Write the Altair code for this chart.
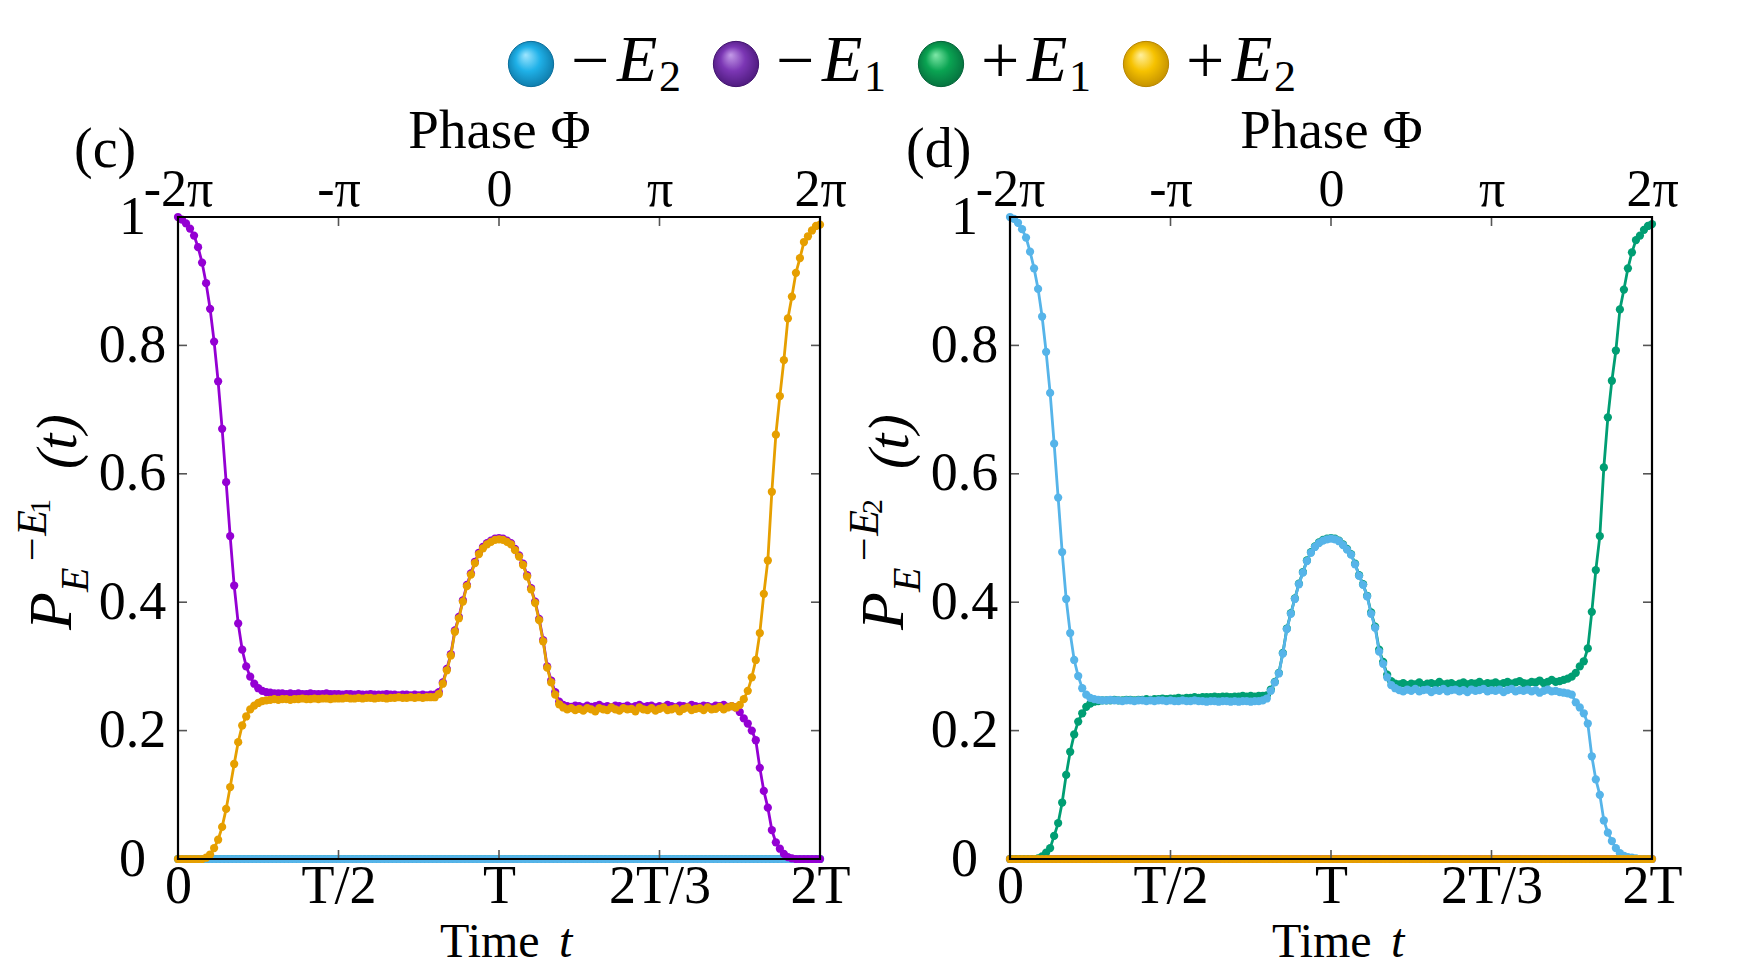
import altair as alt
import pandas as pd

# ---------------- data (time in units of T, 2T/160 sampling) ----------------
t_over_T = [i / 80 for i in range(161)]

# panel (c): initial state -E1
purple_c = [
    1.000, 0.996, 0.990, 0.982, 0.971, 0.953, 0.929, 0.897, 0.857, 0.806,
    0.744, 0.670, 0.587, 0.503, 0.426, 0.367, 0.326, 0.300, 0.284, 0.273,
    0.266, 0.262, 0.260, 0.259, 0.258, 0.258, 0.258, 0.257, 0.258, 0.257,
    0.258, 0.257, 0.257, 0.258, 0.257, 0.257, 0.257, 0.258, 0.257, 0.257,
    0.257, 0.256, 0.257, 0.257, 0.256, 0.257, 0.256, 0.256, 0.257, 0.256,
    0.256, 0.256, 0.257, 0.256, 0.256, 0.255, 0.256, 0.256, 0.255, 0.256,
    0.255, 0.256, 0.255, 0.256, 0.256, 0.260, 0.275, 0.296, 0.319, 0.356,
    0.377, 0.403, 0.427, 0.445, 0.463, 0.477, 0.486, 0.492, 0.496, 0.499,
    0.500, 0.499, 0.496, 0.492, 0.483, 0.473, 0.460, 0.442, 0.422, 0.401,
    0.374, 0.341, 0.300, 0.278, 0.260, 0.245, 0.240, 0.238, 0.237, 0.239,
    0.238, 0.236, 0.239, 0.237, 0.238, 0.240, 0.237, 0.238, 0.236, 0.239,
    0.238, 0.237, 0.239, 0.236, 0.238, 0.240, 0.237, 0.238, 0.239, 0.236,
    0.238, 0.237, 0.240, 0.238, 0.236, 0.239, 0.238, 0.237, 0.240, 0.238,
    0.237, 0.239, 0.238, 0.236, 0.239, 0.238, 0.240, 0.237, 0.238, 0.236,
    0.229, 0.219, 0.211, 0.200, 0.185, 0.142, 0.106, 0.080, 0.045, 0.026,
    0.016, 0.008, 0.003, 0.001, 0.000, 0.000, 0.000, 0.000, 0.000, 0.000,
    0.000,
]
orange_c = [
    0.000, 0.000, 0.000, 0.000, 0.000, 0.000, 0.000, 0.002, 0.007, 0.017,
    0.030, 0.050, 0.078, 0.112, 0.148, 0.182, 0.208, 0.222, 0.233, 0.239,
    0.243, 0.246, 0.247, 0.248, 0.249, 0.248, 0.249, 0.249, 0.248, 0.249,
    0.249, 0.250, 0.249, 0.249, 0.250, 0.249, 0.250, 0.250, 0.249, 0.250,
    0.250, 0.250, 0.251, 0.250, 0.250, 0.251, 0.250, 0.251, 0.251, 0.250,
    0.251, 0.251, 0.250, 0.251, 0.251, 0.252, 0.251, 0.251, 0.252, 0.251,
    0.252, 0.251, 0.252, 0.252, 0.252, 0.257, 0.273, 0.294, 0.317, 0.354,
    0.375, 0.401, 0.425, 0.443, 0.461, 0.475, 0.484, 0.490, 0.494, 0.497,
    0.498, 0.497, 0.494, 0.490, 0.481, 0.471, 0.458, 0.440, 0.420, 0.399,
    0.372, 0.339, 0.298, 0.275, 0.256, 0.241, 0.236, 0.233, 0.235, 0.232,
    0.234, 0.231, 0.235, 0.233, 0.230, 0.235, 0.233, 0.232, 0.236, 0.233,
    0.231, 0.235, 0.233, 0.234, 0.230, 0.236, 0.233, 0.232, 0.235, 0.231,
    0.234, 0.236, 0.232, 0.233, 0.235, 0.230, 0.234, 0.236, 0.232, 0.234,
    0.235, 0.232, 0.236, 0.233, 0.234, 0.237, 0.233, 0.236, 0.238, 0.236,
    0.240, 0.249, 0.262, 0.283, 0.310, 0.352, 0.413, 0.465, 0.572, 0.661,
    0.721, 0.777, 0.842, 0.876, 0.913, 0.936, 0.961, 0.970, 0.979, 0.986,
    0.988,
]
blue_c = [0.0] * 161
green_c = [0.0] * 161

# panel (d): initial state -E2
blue_d = [
    1.000, 0.997, 0.991, 0.981, 0.968, 0.946, 0.920, 0.888, 0.845, 0.790,
    0.726, 0.647, 0.563, 0.478, 0.405, 0.352, 0.310, 0.285, 0.266, 0.256,
    0.251, 0.249, 0.248, 0.247, 0.247, 0.248, 0.247, 0.247, 0.246, 0.247,
    0.247, 0.246, 0.247, 0.247, 0.246, 0.247, 0.246, 0.247, 0.247, 0.246,
    0.247, 0.246, 0.246, 0.247, 0.246, 0.246, 0.247, 0.246, 0.246, 0.245,
    0.246, 0.246, 0.245, 0.246, 0.246, 0.245, 0.246, 0.245, 0.246, 0.246,
    0.245, 0.246, 0.246, 0.247, 0.250, 0.262, 0.275, 0.289, 0.320, 0.358,
    0.382, 0.405, 0.428, 0.446, 0.464, 0.477, 0.486, 0.492, 0.496, 0.498,
    0.499, 0.498, 0.495, 0.489, 0.482, 0.474, 0.459, 0.441, 0.427, 0.409,
    0.382, 0.360, 0.323, 0.304, 0.283, 0.271, 0.266, 0.263, 0.261, 0.264,
    0.262, 0.265, 0.261, 0.263, 0.264, 0.260, 0.263, 0.262, 0.265, 0.261,
    0.263, 0.264, 0.261, 0.263, 0.260, 0.264, 0.262, 0.263, 0.265, 0.261,
    0.263, 0.262, 0.264, 0.260, 0.263, 0.265, 0.261, 0.263, 0.262, 0.264,
    0.261, 0.263, 0.259, 0.262, 0.264, 0.261, 0.262, 0.260, 0.259, 0.258,
    0.256, 0.244, 0.236, 0.227, 0.211, 0.160, 0.124, 0.100, 0.060, 0.041,
    0.028, 0.017, 0.009, 0.005, 0.003, 0.002, 0.001, 0.000, 0.000, 0.000,
    0.000,
]
green_d = [
    0.000, 0.000, 0.000, 0.000, 0.000, 0.000, 0.000, 0.001, 0.004, 0.010,
    0.017, 0.036, 0.056, 0.088, 0.131, 0.167, 0.194, 0.214, 0.227, 0.237,
    0.242, 0.245, 0.246, 0.247, 0.247, 0.247, 0.248, 0.247, 0.247, 0.248,
    0.248, 0.247, 0.248, 0.248, 0.249, 0.248, 0.249, 0.249, 0.250, 0.249,
    0.250, 0.250, 0.251, 0.250, 0.251, 0.251, 0.252, 0.251, 0.252, 0.252,
    0.252, 0.253, 0.252, 0.253, 0.253, 0.252, 0.253, 0.253, 0.254, 0.253,
    0.254, 0.253, 0.254, 0.254, 0.255, 0.264, 0.276, 0.290, 0.321, 0.359,
    0.383, 0.406, 0.429, 0.447, 0.465, 0.478, 0.487, 0.493, 0.497, 0.499,
    0.500, 0.499, 0.496, 0.490, 0.483, 0.475, 0.460, 0.442, 0.428, 0.410,
    0.384, 0.362, 0.326, 0.307, 0.287, 0.277, 0.273, 0.272, 0.274, 0.271,
    0.273, 0.272, 0.275, 0.271, 0.273, 0.274, 0.272, 0.276, 0.272, 0.273,
    0.274, 0.271, 0.273, 0.275, 0.272, 0.274, 0.273, 0.276, 0.272, 0.274,
    0.273, 0.275, 0.272, 0.274, 0.276, 0.273, 0.275, 0.277, 0.274, 0.273,
    0.276, 0.275, 0.278, 0.274, 0.276, 0.279, 0.276, 0.277, 0.279, 0.281,
    0.284, 0.290, 0.300, 0.308, 0.328, 0.385, 0.450, 0.503, 0.610, 0.688,
    0.745, 0.792, 0.856, 0.887, 0.920, 0.945, 0.964, 0.971, 0.980, 0.986,
    0.989,
]
orange_d = [0.0] * 161
purple_d = [0.0] * 161

# ---------------- ticks / labels ----------------
time_ticks = [0, 0.5, 1, 1.5, 2]
time_labels = ["0", "T/2", "T", "2T/3", "2T"]
phase_labels = ["-2π", "-π", "0", "π", "2π"]
p_ticks = [0, 0.2, 0.4, 0.6, 0.8, 1]
p_labels = ["0", "0.2", "0.4", "0.6", "0.8", "1"]
inner_time_ticks = [0.5, 1, 1.5]
inner_p_ticks = [0.2, 0.4, 0.6, 0.8]

legend_keys = ["−E₂", "−E₁", "+E₁", "+E₂"]
legend_signs = ["−", "−", "+", "+"]
legend_digits = ["2", "1", "1", "2"]

# ---------------- styles ----------------
COL = {"−E₂": "#56B4E9", "−E₁": "#9400D3", "+E₁": "#009E73", "+E₂": "#E69F00"}
BALL = {
    "−E₂": ("#9fe6ff", "#1fb1e8", "#0b6f9c"),
    "−E₁": ("#c49be8", "#7b36b4", "#431470"),
    "+E₁": ("#7fe8a8", "#0aa452", "#05653a"),
    "+E₂": ("#fff0a0", "#f6c200", "#b88600"),
}
FONT = "Liberation Serif"
W = H = 642
TICK_FS = 54

xs = alt.Scale(domain=[0, 2], nice=False, zero=False)
ys = alt.Scale(domain=[0, 1], nice=False, zero=False)
one = pd.DataFrame({"k": [0]})


def label_expr(values, labels):
    expr = "''"
    for v, l in reversed(list(zip(values, labels))):
        expr = f"abs(datum.value - {v}) < 1e-6 ? '{l}' : ({expr})"
    return expr


common_ax = dict(ticks=False, tickSize=0, domain=False, grid=False,
                 labelFont=FONT, labelColor="black",
                 labelFlush=False, labelOverlap=False, labelFontWeight="normal")

bottom_axis = alt.Axis(orient="bottom", values=time_ticks,
                       labelExpr=label_expr(time_ticks, time_labels),
                       labelBaseline="alphabetic", labelPadding=43, title=None,
                       labelFontSize=TICK_FS, **common_ax)
top_axis = alt.Axis(orient="top", values=time_ticks,
                    labelExpr=label_expr(time_ticks, phase_labels),
                    labelBaseline="alphabetic", labelPadding=12,
                    labelFontSize=52,
                    title="Phase Φ", titleFont=FONT, titleFontSize=55,
                    titleFontWeight="normal", titleColor="black",
                    titleBaseline="alphabetic", titleY=-70, **common_ax)
left_axis = alt.Axis(orient="left", values=p_ticks,
                     labelExpr=label_expr(p_ticks, p_labels),
                     labelAlign="center", labelBaseline="middle",
                     labelPadding=46, title=None, labelFontSize=TICK_FS,
                     **common_ax)


def txt(text, x, y, size, italic=False, angle=0, align="left"):
    return alt.Chart(one).mark_text(
        text=text, font=FONT, fontSize=size,
        fontStyle="italic" if italic else "normal", angle=angle,
        align=align, baseline="alphabetic", color="black",
    ).encode(x=alt.value(x), y=alt.value(y))


def panel(series, tag, digit):
    layers = []
    for k, (vals, key) in enumerate(series):
        df = pd.DataFrame({"t": t_over_T, "p": vals})
        xax = bottom_axis if k == 0 else (top_axis if k == 1 else None)
        yax = left_axis if k == 0 else None
        line = alt.Chart(df).mark_line(color=COL[key], strokeWidth=2.8).encode(
            x=alt.X("t:Q", scale=xs, axis=xax), y=alt.Y("p:Q", scale=ys, axis=yax))
        pts = alt.Chart(df).mark_point(filled=True, size=68, color=COL[key], opacity=1).encode(
            x=alt.X("t:Q", scale=xs, axis=None), y=alt.Y("p:Q", scale=ys, axis=None))
        layers += [line, pts]

    tx = pd.DataFrame({"v": inner_time_ticks})
    ty = pd.DataFrame({"v": inner_p_ticks})
    tick_style = dict(color="#555555", strokeWidth=1.6)
    layers += [
        alt.Chart(ty).mark_rule(**tick_style).encode(
            y=alt.Y("v:Q", scale=ys, axis=None), x=alt.value(0), x2=alt.value(9)),
        alt.Chart(ty).mark_rule(**tick_style).encode(
            y=alt.Y("v:Q", scale=ys, axis=None), x=alt.value(W - 9), x2=alt.value(W)),
        alt.Chart(tx).mark_rule(**tick_style).encode(
            x=alt.X("v:Q", scale=xs, axis=None), y=alt.value(H - 9), y2=alt.value(H)),
        alt.Chart(tx).mark_rule(**tick_style).encode(
            x=alt.X("v:Q", scale=xs, axis=None), y=alt.value(0), y2=alt.value(9)),
        alt.Chart(one).mark_rect(filled=False, stroke="black", strokeWidth=2.2).encode(
            x=alt.value(0), x2=alt.value(W), y=alt.value(0), y2=alt.value(H)),
    ]
    # panel tag and axis titles
    layers += [
        txt(tag, -104, -50, 56),
        txt("Time", 262, H + 98, 48),
        txt("t", 381, H + 98, 48, italic=True),
        txt("P", -107, 413, 62, italic=True, angle=270),
        txt("E", -90, 375, 40, italic=True, angle=270),
        txt("−E", -132, 347, 42, italic=True, angle=270),
        txt(digit, -128, 297, 30, angle=270),
        txt("(t)", -102, 252, 58, italic=True, angle=270),
    ]
    return (alt.layer(*layers)
            .resolve_axis(x="independent", y="independent")
            .properties(width=W, height=H))


panel_c = panel([(green_c, "+E₁"), (blue_c, "−E₂"), (purple_c, "−E₁"), (orange_c, "+E₂")], "(c)", "1")
panel_d = panel([(purple_d, "−E₁"), (green_d, "+E₁"), (blue_d, "−E₂"), (orange_d, "+E₂")], "(d)", "2")

# ---------------- legend ----------------
leg = pd.DataFrame({"key": legend_keys, "sign": legend_signs, "digit": legend_digits})
lx = alt.X("key:N", scale=alt.Scale(type="point", domain=legend_keys, range=[353, 968], padding=0), axis=None)
leg_layers = []
for key in legend_keys:
    light, base, dark = BALL[key]
    grad = alt.RadialGradient(
        gradient="radial",
        stops=[alt.GradientStop(color=light, offset=0),
               alt.GradientStop(color=base, offset=0.45),
               alt.GradientStop(color=dark, offset=1)],
        x1=0.38, y1=0.3, r1=0.0, x2=0.5, y2=0.5, r2=0.6)
    leg_layers.append(
        alt.Chart(leg).transform_filter(alt.datum.key == key).mark_point(
            shape="circle", filled=True, size=2050, color=grad, opacity=1,
            stroke=dark, strokeWidth=1).encode(x=lx, y=alt.value(27)))
leg_layers += [
    alt.Chart(leg).mark_text(align="left", baseline="alphabetic", dx=40, font=FONT,
                             fontSize=68, color="black").encode(x=lx, y=alt.value(46), text="sign:N"),
    alt.Chart(leg).mark_text(align="left", baseline="alphabetic", dx=86, font=FONT,
                             fontSize=66, fontStyle="italic", color="black").encode(
        x=lx, y=alt.value(44), text=alt.value("E")),
    alt.Chart(leg).mark_text(align="left", baseline="alphabetic", dx=128, font=FONT,
                             fontSize=44, color="black").encode(x=lx, y=alt.value(54), text="digit:N"),
]
legend = alt.layer(*leg_layers).properties(width=2 * W + 190, height=50)

panels = alt.hconcat(panel_c, panel_d, spacing=190, bounds="flush")
chart = alt.vconcat(legend, panels, spacing=130, bounds="flush").properties(
    padding={"left": 4, "top": 20, "right": 5, "bottom": 0}
).configure_view(stroke=None)

chart.save("out.html", embed_options={"renderer": "svg", "actions": False})
